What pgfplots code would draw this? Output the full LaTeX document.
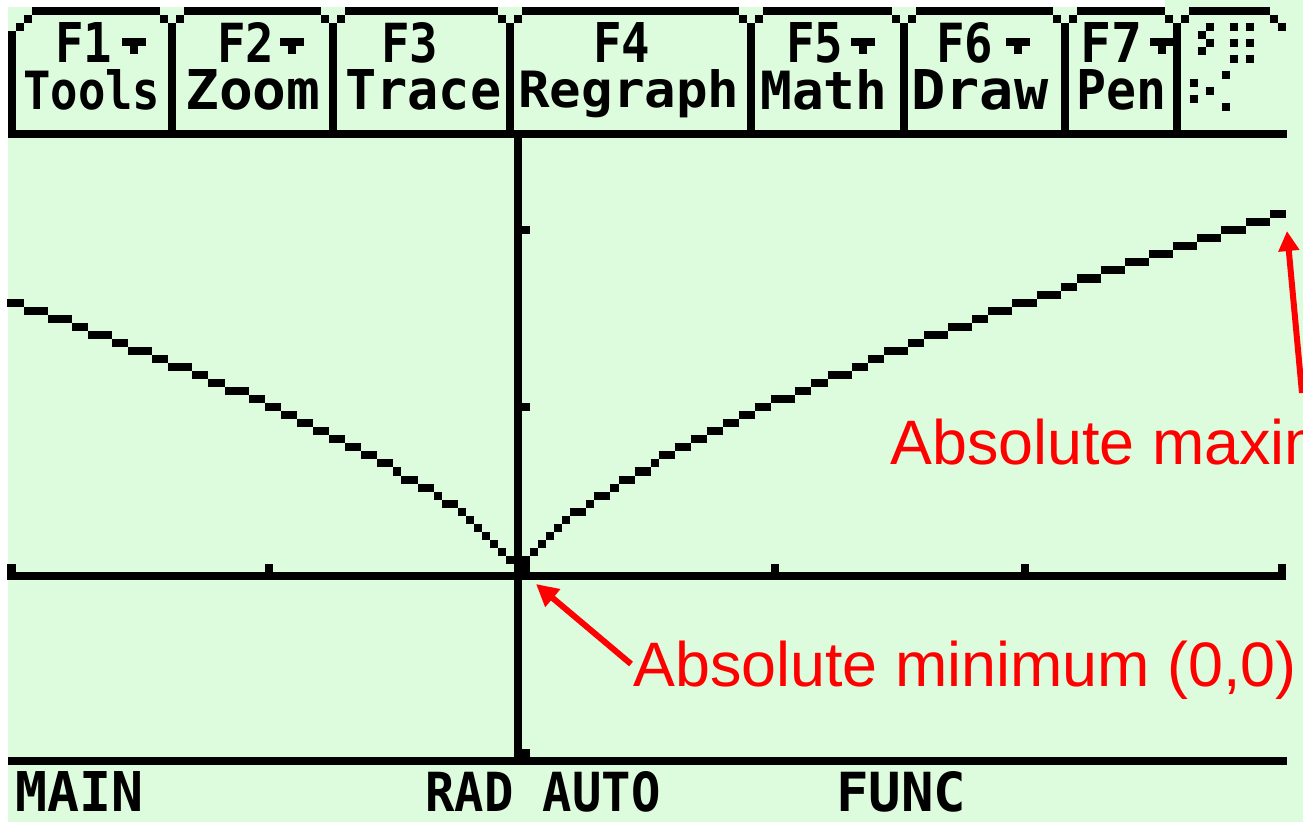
\documentclass[border=0pt]{standalone}
\usepackage{pgfplots}
\pgfplotsset{compat=1.18}
\usepackage{graphicx}
\usepackage{fontspec}
\setmainfont{Liberation Sans}
\newfontfamily\tifont{DejaVu Sans Mono}
\usetikzlibrary{arrows.meta}
\definecolor{lcd}{RGB}{221,251,221}
\definecolor{annot}{RGB}{255,0,0}

% x1 x2 ybottom ytop text  (image pixel coordinates, y downward)
\newcommand{\tilabel}[5]{%
  \pgfmathsetmacro{\lw}{(#2-#1)*0.5}%
  \pgfmathsetmacro{\lh}{(#3-#4)*0.5}%
  \node[anchor=base west, inner sep=0pt] at (#1,#3) {\resizebox{\lw pt}{\lh pt}{\tifont\bfseries #5}};}
% small down-arrow of the menu: left x
\newcommand{\tiarrow}[1]{%
  \fill ({#1},38) rectangle ({#1+24},46);
  \fill ({#1+8},46) rectangle ({#1+16},54);}

\begin{document}
\begin{tikzpicture}[x=0.5pt,y=-0.5pt]
\useasboundingbox (0,0) rectangle (1303,822);
\clip (0,0) rectangle (1303,822);
\fill[lcd] (0,0) rectangle (1303,822);
\fill[white] (0,0) rectangle (7.5,822);
\fill[white] (0,0) rectangle (1165,7);

% ---------- menu bar ----------
\begin{scope}[black]
\fill (7.5,129.8) rectangle (1287,137.8);
\foreach \a/\b in {31.5/160, 184/321, 345/498, 522/739, 763/892, 916/1053, 1077/1165, 1189/1270}
  \fill (\a,7) rectangle (\b,15);
\foreach \c in {172,333,510,751,904,1065,1177} {
  \fill ({\c-12},15) rectangle ({\c-4},23);
  \fill ({\c+4},15) rectangle ({\c+12},23);
  \fill ({\c-4},23) rectangle ({\c+4},130);
}
\fill (23.5,15) rectangle (31.5,23);
\fill (15.5,23) rectangle (23.5,31);
\fill (7.5,31) rectangle (15.5,130);
\fill (1270,15) rectangle (1278,23);
\fill (1278,23) rectangle (1286,31);
% icon of last tab
\fill (1206,23) rectangle (1214,31);
\fill (1198,31) rectangle (1206,39);
\fill (1206,39) rectangle (1214,47);
\fill (1198,47) rectangle (1206,55);
\foreach \xx in {1230,1246} \foreach \yy in {23,39,55}
  \fill (\xx,\yy) rectangle ({\xx+8},{\yy+8});
\fill (1222,71) rectangle (1230,79);
\fill (1190,79) rectangle (1198,87);
\fill (1206,87) rectangle (1214,95);
\fill (1190,95) rectangle (1198,103);
\fill (1222,103) rectangle (1230,111);
% arrows of F1, F2, F5, F6, F7
\tiarrow{122}
\tiarrow{280}
\tiarrow{851}
\tiarrow{1006}
\tiarrow{1150}
% status bar line
\fill (7.5,757) rectangle (1287,765);
\end{scope}

\tilabel{55}{112}{63}{23}{F1}
\tilabel{217}{274}{63}{23}{F2}
\tilabel{381}{438}{63}{23}{F3}
\tilabel{593}{650}{63}{23}{F4}
\tilabel{786}{843}{63}{23}{F5}
\tilabel{936}{993}{63}{23}{F6}
\tilabel{1080}{1142}{63}{23}{F7}
\tilabel{23}{160}{110}{70}{Tools}
\tilabel{185}{320}{110}{70}{Zoom}
\tilabel{345}{501}{110}{70}{Trace}
\tilabel{518}{739}{108}{70}{Regraph}
\tilabel{760}{887}{110}{70}{Math}
\tilabel{911}{1048}{110}{70}{Draw}
\tilabel{1076}{1166}{110}{70}{Pen}
\tilabel{15}{143}{812}{772}{MAIN}
\tilabel{425}{660}{812}{772}{RAD AUTO}
\tilabel{836}{966}{812}{772}{FUNC}

% ---------- graph ----------
\begin{scope}[x=1cm,y=1cm]
\begin{axis}[
  at={(3.75pt,-378.5pt)}, anchor=south west,
  width=639.15pt, height=309.6pt, scale only axis,
  xmin=-2.00949, xmax=3.02215, ymin=-1.03618, ymax=2.50987,
  axis lines=middle,
  axis line style={line width=4.02pt, -},
  every inner x axis line/.append style={-},
  every inner y axis line/.append style={-},
  xtick={-1.99367,-0.98101,1.01266,1.99367,3.00633},
  ytick={-1.01316,0.96711,1.98026},
  xticklabels={}, yticklabels={},
  tick align=inside,
  major tick length=6pt,
  tick style={line width=4.02pt, black},
  clip=false,
]
\addplot[black, line width=4.02pt, mark=none, unbounded coords=jump] coordinates {
(-0.01582,0.04605) (0.04747,0.04605) (0.04747,nan)
(-0.01582,0.09211) (0.04747,0.09211) (0.04747,nan)
(0.04747,0.13816) (0.07911,0.13816) (0.07911,nan)
(0.07911,0.18421) (0.11076,0.18421) (0.11076,nan)
(0.11076,0.23026) (0.14241,0.23026) (0.14241,nan)
(0.14241,0.27632) (0.17405,0.27632) (0.17405,nan)
(0.17405,0.32237) (0.20570,0.32237) (0.20570,nan)
(0.20570,0.36842) (0.26899,0.36842) (0.26899,nan)
(0.26899,0.41447) (0.30063,0.41447) (0.30063,nan)
(0.30063,0.46053) (0.36392,0.46053) (0.36392,nan)
(0.36392,0.50658) (0.39557,0.50658) (0.39557,nan)
(0.39557,0.55263) (0.45886,0.55263) (0.45886,nan)
(0.45886,0.59868) (0.52215,0.59868) (0.52215,nan)
(0.52215,0.64474) (0.55380,0.64474) (0.55380,nan)
(0.55380,0.69079) (0.61709,0.69079) (0.61709,nan)
(0.61709,0.73684) (0.68038,0.73684) (0.68038,nan)
(0.68038,0.78289) (0.74367,0.78289) (0.74367,nan)
(0.74367,0.82895) (0.80696,0.82895) (0.80696,nan)
(0.80696,0.87500) (0.87025,0.87500) (0.87025,nan)
(0.87025,0.92105) (0.93354,0.92105) (0.93354,nan)
(0.93354,0.96711) (0.99684,0.96711) (0.99684,nan)
(0.99684,1.01316) (1.09177,1.01316) (1.09177,nan)
(1.09177,1.05921) (1.15506,1.05921) (1.15506,nan)
(1.15506,1.10526) (1.21835,1.10526) (1.21835,nan)
(1.21835,1.15132) (1.31329,1.15132) (1.31329,nan)
(1.31329,1.19737) (1.37658,1.19737) (1.37658,nan)
(1.37658,1.24342) (1.43987,1.24342) (1.43987,nan)
(1.43987,1.28947) (1.53481,1.28947) (1.53481,nan)
(1.53481,1.33553) (1.59810,1.33553) (1.59810,nan)
(1.59810,1.38158) (1.69304,1.38158) (1.69304,nan)
(1.69304,1.42763) (1.78797,1.42763) (1.78797,nan)
(1.78797,1.47368) (1.85127,1.47368) (1.85127,nan)
(1.85127,1.51974) (1.94620,1.51974) (1.94620,nan)
(1.94620,1.56579) (2.04114,1.56579) (2.04114,nan)
(2.04114,1.61184) (2.13608,1.61184) (2.13608,nan)
(2.13608,1.65789) (2.19937,1.65789) (2.19937,nan)
(2.19937,1.70395) (2.29430,1.70395) (2.29430,nan)
(2.29430,1.75000) (2.38924,1.75000) (2.38924,nan)
(2.38924,1.79605) (2.48418,1.79605) (2.48418,nan)
(2.48418,1.84211) (2.57911,1.84211) (2.57911,nan)
(2.57911,1.88816) (2.67405,1.88816) (2.67405,nan)
(2.67405,1.93421) (2.76899,1.93421) (2.76899,nan)
(2.76899,1.98026) (2.86392,1.98026) (2.86392,nan)
(2.86392,2.02632) (2.95886,2.02632) (2.95886,nan)
(2.95886,2.07237) (3.02215,2.07237) (3.02215,nan)
(-0.04747,0.09211) (-0.01582,0.09211) (-0.01582,nan)
(-0.07911,0.13816) (-0.04747,0.13816) (-0.04747,nan)
(-0.11076,0.18421) (-0.07911,0.18421) (-0.07911,nan)
(-0.14241,0.23026) (-0.11076,0.23026) (-0.11076,nan)
(-0.17405,0.27632) (-0.14241,0.27632) (-0.14241,nan)
(-0.20570,0.32237) (-0.17405,0.32237) (-0.17405,nan)
(-0.23734,0.36842) (-0.20570,0.36842) (-0.20570,nan)
(-0.30063,0.41447) (-0.23734,0.41447) (-0.23734,nan)
(-0.33228,0.46053) (-0.30063,0.46053) (-0.30063,nan)
(-0.39557,0.50658) (-0.33228,0.50658) (-0.33228,nan)
(-0.45886,0.55263) (-0.39557,0.55263) (-0.39557,nan)
(-0.49051,0.59868) (-0.45886,0.59868) (-0.45886,nan)
(-0.55380,0.64474) (-0.49051,0.64474) (-0.49051,nan)
(-0.61709,0.69079) (-0.55380,0.69079) (-0.55380,nan)
(-0.68038,0.73684) (-0.61709,0.73684) (-0.61709,nan)
(-0.74367,0.78289) (-0.68038,0.78289) (-0.68038,nan)
(-0.80696,0.82895) (-0.74367,0.82895) (-0.74367,nan)
(-0.87025,0.87500) (-0.80696,0.87500) (-0.80696,nan)
(-0.93354,0.92105) (-0.87025,0.92105) (-0.87025,nan)
(-0.99684,0.96711) (-0.93354,0.96711) (-0.93354,nan)
(-1.06013,1.01316) (-0.99684,1.01316) (-0.99684,nan)
(-1.15506,1.05921) (-1.06013,1.05921) (-1.06013,nan)
(-1.21835,1.10526) (-1.15506,1.10526) (-1.15506,nan)
(-1.28165,1.15132) (-1.21835,1.15132) (-1.21835,nan)
(-1.37658,1.19737) (-1.28165,1.19737) (-1.28165,nan)
(-1.43987,1.24342) (-1.37658,1.24342) (-1.37658,nan)
(-1.53481,1.28947) (-1.43987,1.28947) (-1.43987,nan)
(-1.59810,1.33553) (-1.53481,1.33553) (-1.53481,nan)
(-1.69304,1.38158) (-1.59810,1.38158) (-1.59810,nan)
(-1.75633,1.42763) (-1.69304,1.42763) (-1.69304,nan)
(-1.85127,1.47368) (-1.75633,1.47368) (-1.75633,nan)
(-1.94620,1.51974) (-1.85127,1.51974) (-1.85127,nan)
(-2.00949,1.56579) (-1.94620,1.56579)
};
\end{axis}
\end{scope}

% ---------- annotations ----------
\draw[annot, line width=3pt, -{Triangle[length=11pt,width=11pt]}] (631,664) -- (536,584);
\draw[annot, line width=3pt, -{Triangle[length=10pt,width=10pt]}] (1302,393) -- (1287,231);
\node[anchor=base west, inner sep=0pt, text=annot, font=\fontsize{31.4pt}{36pt}\selectfont] at (633,687) {Absolute minimum (0,0)};
\node[anchor=base west, inner sep=0pt, text=annot, font=\fontsize{31.4pt}{36pt}\selectfont] at (890,465) {Absolute maximum};
\end{tikzpicture}
\end{document}
